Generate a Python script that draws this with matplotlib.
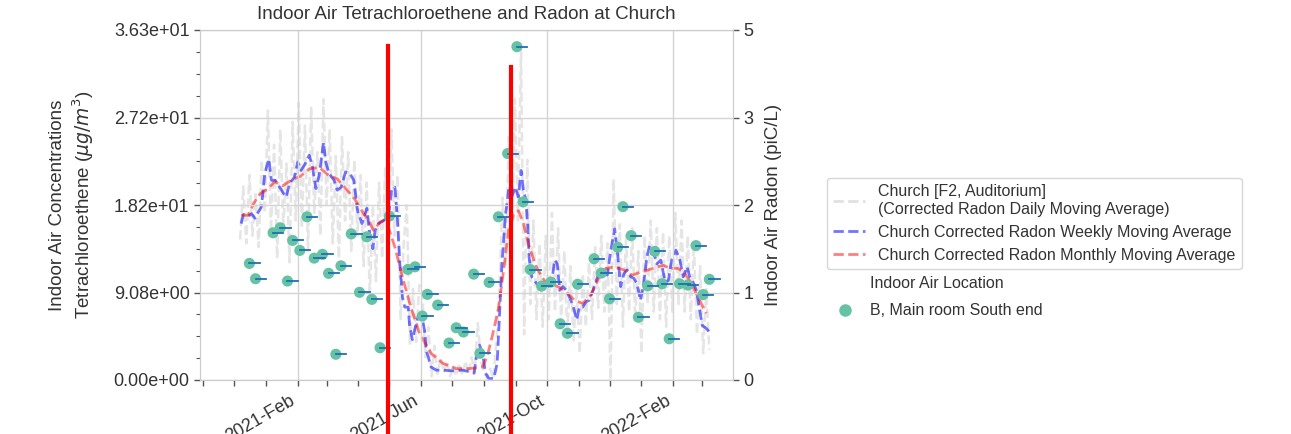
import numpy as np
import pandas as pd
import matplotlib
matplotlib.use("Agg")
import matplotlib.pyplot as plt
import matplotlib.dates as mdates
from matplotlib.lines import Line2D
from matplotlib.ticker import FixedLocator, AutoMinorLocator, FixedFormatter

plt.rcParams['font.family'] = ['Liberation Sans', 'DejaVu Sans']

BASE = pd.Timestamp('2021-02-01')

# ---------------- data ----------------
tce_dates = ['2020-12-16', '2020-12-22', '2021-01-08', '2021-01-15', '2021-01-22', '2021-01-27',
             '2021-02-03', '2021-02-10', '2021-02-17', '2021-02-25', '2021-03-03', '2021-03-10',
             '2021-03-15', '2021-03-25', '2021-04-02', '2021-04-09', '2021-04-14', '2021-04-22',
             '2021-05-01', '2021-05-19', '2021-05-26', '2021-06-02', '2021-06-07', '2021-06-17',
             '2021-06-28', '2021-07-05', '2021-07-12', '2021-07-22', '2021-07-28', '2021-08-06',
             '2021-08-15', '2021-08-24', '2021-09-02', '2021-09-08', '2021-09-15', '2021-09-26',
             '2021-10-05', '2021-10-14', '2021-10-21', '2021-10-31', '2021-11-16', '2021-11-23',
             '2021-12-01', '2021-12-09', '2021-12-14', '2021-12-22', '2021-12-29', '2022-01-07',
             '2022-01-14', '2022-01-21', '2022-01-28', '2022-02-07', '2022-02-15', '2022-02-23',
             '2022-03-02', '2022-03-08']
tce_values = [12.10, 10.51, 15.28, 15.80, 10.27, 14.49,
              13.45, 16.94, 12.65, 13.04, 11.07, 2.67,
              11.85, 15.17, 9.10, 14.86, 8.37, 3.35,
              17.01, 11.48, 11.75, 6.64, 8.89, 7.78,
              3.84, 5.42, 4.98, 10.99, 2.77, 10.13,
              16.94, 23.51, 34.60, 18.49, 11.46, 9.75,
              10.16, 5.83, 4.85, 9.94, 12.59, 11.10,
              8.43, 13.79, 17.99, 14.99, 6.51, 9.77,
              13.35, 9.99, 4.28, 9.99, 9.85, 13.95,
              8.87, 10.45]

# weekly moving average (days after 2021-02-01, pCi/L)
weekly_days = [-55.0, -52.8, -48.0, -44.9, -41.6, -38.4, -35.3, -32.0, -28.1, -25.6, -21.8, -17.6,
               -14.4, -11.2, -8.0, -3.2, 0.0, 3.2, 6.4, 11.2, 14.4, 17.6, 20.8, 25.0, 27.2, 30.4,
               35.3, 38.4, 42.3, 46.4, 50.6, 54.5, 58.3, 62.4, 67.2, 70.4, 73.0, 75.2, 78.5, 83.3,
               88.1, 91.2, 94.4, 96.7, 99.2, 101.8, 104.0, 107.3, 108.8, 111.4, 113.6, 116.9, 120.1,
               123.2, 124.9, 129.7, 134.5, 140.9, 150.5, 160.1, 166.5, 171.3, 174.5, 176.7, 179.9,
               182.5, 185.7, 190.5, 193.8, 196.0, 198.5, 201.7, 204.9, 208.1, 211.3, 214.5, 217.1,
               219.3, 221.6, 223.5, 224.8, 227.4, 232.2, 237.0, 243.3, 246.6, 249.7, 252.3, 254.5,
               257.7, 261.0, 264.1, 267.3, 271.1, 273.7, 276.9, 280.2, 283.3, 288.2, 291.3, 294.6,
               297.8, 300.9, 304.2, 308.0, 310.5, 313.8, 317.0, 320.1, 323.4, 326.6, 329.7, 333.0,
               336.2, 339.3, 341.9, 345.1, 349.0, 352.8, 357.0, 360.2, 363.4, 367.6, 371.4, 374.6,
               378.4, 381.0, 384.2, 387.4, 390.6, 393.1, 397.0, 400.2]
weekly_radon = [2.06, 2.18, 2.16, 2.19, 2.13, 2.21, 2.28, 2.72, 2.91, 2.63, 2.63, 2.54,
                2.47, 2.41, 2.59, 2.67, 2.87, 2.76, 2.83, 2.96, 2.80, 2.52, 2.69, 3.13, 2.87, 2.72,
                2.63, 2.50, 2.54, 2.74, 2.72, 2.63, 2.21, 2.06, 2.26, 1.88, 1.73, 1.97, 2.06, 2.10,
                2.15, 2.50, 2.54, 2.15, 1.53, 1.09, 0.96, 0.96, 0.70, 0.53, 0.66, 0.83, 0.85,
                0.66, 0.39, 0.17, 0.13, 0.13, 0.12, 0.13, 0.11, 0.09, 0.39, 0.46, 0.33,
                0.09, 0.02, 0.02, 0.22, 0.83, 1.53, 2.15, 2.50, 2.41, 2.54, 2.41, 2.76,
                2.50, 2.37, 2.06, 1.62, 1.36, 1.27, 1.23, 1.23, 1.27, 1.58, 1.53, 1.18,
                1.23, 1.18, 1.09, 0.99, 0.79, 0.96, 0.96, 1.03, 1.05, 1.23, 1.36, 1.40,
                1.42, 1.38, 1.71, 1.99, 1.71, 1.23, 1.40, 1.45, 1.36, 1.34, 1.27, 1.05,
                1.27, 1.62, 1.77, 1.71, 1.53, 1.58, 1.29, 1.31, 1.58, 1.71, 1.58, 1.36,
                1.49, 1.36, 1.29, 1.18, 0.92, 0.72, 0.68, 0.63]

# monthly moving average
monthly_days = [-55.0, -48.0, -43.2, -36.8, -28.8, -22.4, -14.4, -6.4, 3.2, 11.2, 20.8, 30.4,
                38.4, 48.0, 56.0, 64.1, 70.4, 73.7, 80.0, 83.3, 88.1, 94.4, 100.9, 108.8, 118.4,
                129.7, 140.9, 153.7, 166.5, 179.3, 184.1, 188.9, 195.3, 200.1, 204.9, 209.7,
                214.5, 219.3, 224.1, 230.5, 237.0, 243.3, 249.7, 259.3, 268.9, 276.9, 285.0,
                292.9, 299.4, 307.4, 317.0, 324.9, 333.0, 341.0, 349.0, 355.4, 361.8, 369.8,
                376.2, 382.6, 389.0, 397.0]
monthly_radon = [2.17, 2.17, 2.32, 2.45, 2.52, 2.61, 2.56, 2.63, 2.69, 2.78, 2.80, 2.69,
                 2.65, 2.50, 2.37, 2.19, 2.06, 1.97, 2.08, 2.10, 2.01, 1.75, 1.40, 1.01, 0.61,
                 0.35, 0.22, 0.15, 0.15, 0.17, 0.31, 0.57, 0.96, 1.45, 1.97, 2.17,
                 2.23, 2.06, 1.80, 1.53, 1.36, 1.25, 1.25, 1.18, 1.05, 1.01, 1.12,
                 1.36, 1.47, 1.49, 1.45, 1.38, 1.42, 1.45, 1.49, 1.51, 1.47, 1.47,
                 1.40, 1.27, 1.09, 0.88]

# daily moving average, one value every 3 days from 2020-12-07
daily_start = '2020-12-07'
daily_radon = [
    1.85, 2.55, 1.80, 2.70, 1.90, 2.45, 1.75, 2.90, 2.20,              # Dec
    3.55, 1.95, 3.10, 1.60, 3.30, 2.00, 2.85, 1.55, 3.40, 2.10,        # Jan
    3.65, 2.00, 3.35, 1.70, 3.60, 2.20, 3.00, 1.90, 3.70, 2.30,        # Feb
    3.30, 1.80, 2.95, 1.60, 3.20, 2.10, 3.00, 1.70, 2.90, 1.90,        # Mar
    2.70, 1.50, 2.60, 1.10, 2.30, 1.30, 2.60, 1.60, 2.80, 1.70,        # Apr
    3.30, 1.90, 2.70, 0.80, 1.80, 2.30, 0.45, 1.20, 0.50, 1.25,        # May
    1.20, 0.30, 0.70, 0.05, 0.45, 0.08, 0.30, 0.10, 0.25, 0.05,        # Jun
    0.20, 0.05, 0.22, 0.06, 0.25, 0.08, 0.30, 0.10, 0.75, 0.25,        # Jul
    0.10, 0.02, 0.15, 0.02, 0.50, 1.20, 2.40, 1.50, 3.20, 1.90,        # Aug
    3.70, 2.10, 4.39, 0.60, 2.90, 1.00, 2.10, 0.80, 1.80, 0.70,        # Sep
    1.90, 0.80, 2.20, 0.90, 2.00, 0.75, 1.70, 0.60, 1.50, 0.50, 1.20,  # Oct
    0.35, 1.40, 0.70, 1.55, 0.80, 1.75, 0.95, 1.90, 0.90, 1.80,        # Nov
    0.00, 2.65, 1.00, 2.05, 0.70, 1.90, 0.90, 2.00, 0.80, 1.70,        # Dec
    0.35, 1.90, 1.00, 2.10, 0.90, 2.00, 0.80, 1.95, 0.70, 1.90,        # Jan
    0.90, 2.20, 1.00, 2.10, 0.90, 1.90, 0.80, 1.80, 0.60, 1.50,        # Feb
    0.35, 1.20, 0.40]                                                  # Mar

event_dates = ['2021-04-30', '2021-08-27']
event_tops = [0.954, 0.894]

legend_labels = ['Church [F2, Auditorium]\n(Corrected Radon Daily Moving Average)',
                 'Church Corrected Radon Weekly Moving Average',
                 'Church Corrected Radon Monthly Moving Average']
location_label = 'B, Main room South end'

# ---------------- plot ----------------
fig = plt.figure(figsize=(12.91, 4.34), dpi=100)
ax = fig.add_axes([200/1291, 1-380/434, 533/1291, 350/434])
ax2 = ax.twinx()

green = '#66c2a5'
text_c = '#333333'
grid_c = '#d4d4d4'
gray_c = '#dadada'

daily_x = pd.date_range(daily_start, periods=len(daily_radon), freq='3D')
weekly_x = [BASE + pd.Timedelta(days=d) for d in weekly_days]
monthly_x = [BASE + pd.Timedelta(days=d) for d in monthly_days]

ax2.plot(daily_x, daily_radon, color=gray_c, ls='--', lw=1.8, alpha=0.7)
ax2.plot(weekly_x, weekly_radon, color='blue', ls='--', lw=2, alpha=0.55)
ax2.plot(monthly_x, monthly_radon, color='red', ls='--', lw=2, alpha=0.5)

ax.set_zorder(ax2.get_zorder() + 1)
ax.patch.set_visible(False)

tx = pd.to_datetime(tce_dates)
for d, v in zip(tx, tce_values):
    ax.plot([d, d + pd.Timedelta(days=10)], [v, v], color='#1f6fb4', lw=1.3, zorder=4)
ax.scatter(tx, tce_values, s=64, color=green, edgecolor='none', zorder=3)

for d, top in zip(event_dates, event_tops):
    ax.axvline(pd.Timestamp(d), ymin=-0.2, ymax=top, color='red', lw=3, clip_on=False, zorder=10)

# axes limits / ticks
lmax = max(tce_values) * 1.05
ax.set_ylim(0, lmax)
lt = np.linspace(0, lmax, 5)
ax.yaxis.set_major_locator(FixedLocator(lt))
ax.yaxis.set_major_formatter(FixedFormatter(['%.2e' % t for t in lt]))
ax.yaxis.set_minor_locator(AutoMinorLocator(4))

rmax = max(daily_radon) * 1.05
ax2.set_ylim(0, rmax)
rt = np.linspace(0, rmax, 5)
ax2.yaxis.set_major_locator(FixedLocator(rt))
ax2.yaxis.set_major_formatter(FixedFormatter(['%.0f' % t for t in rt]))

ax.set_xlim(pd.Timestamp('2020-10-29'), pd.Timestamp('2022-03-31'))
ax.xaxis.set_major_locator(mdates.MonthLocator(bymonth=[2, 6, 10]))
ax.xaxis.set_minor_locator(mdates.MonthLocator())
ax.xaxis.set_major_formatter(mdates.DateFormatter('%Y-%b'))
for lab in ax.get_xticklabels():
    lab.set_rotation(30)
    lab.set_ha('right')

ax.grid(True, which='major', color=grid_c, lw=1)
ax.set_axisbelow(True)
ax2.grid(False)

for a in (ax, ax2):
    for s in a.spines.values():
        s.set_color('#cccccc')
    a.tick_params(which='major', length=4, width=1, color='#555555', labelcolor=text_c, labelsize=13)
    a.tick_params(which='minor', length=3, width=0.8, color='#555555')
ax.tick_params(axis='x', which='minor', length=4, width=1)
ax.tick_params(axis='x', which='major', pad=5)

ax.set_title('Indoor Air Tetrachloroethene and Radon at Church', fontsize=13.5, color=text_c, pad=8)
ax.set_ylabel('Indoor Air Concentrations\nTetrachloroethene ($\\mu g/m^3$)', fontsize=13.5,
              color=text_c, labelpad=13)
ax2.set_ylabel('Indoor Air Radon (piC/L)', fontsize=13.5, color=text_c, labelpad=8)

h = [Line2D([], [], color=gray_c, ls='--', lw=2, alpha=0.8),
     Line2D([], [], color='blue', ls='--', lw=2, alpha=0.55),
     Line2D([], [], color='red', ls='--', lw=2, alpha=0.5)]
leg1 = ax.legend(h, legend_labels, loc='upper left', bbox_to_anchor=(1.176, 0.577),
                 borderaxespad=0, fontsize=11.5, frameon=True, edgecolor='#cccccc',
                 labelcolor=text_c, handlelength=2.0)
ax.add_artist(leg1)
h2 = [Line2D([], [], ls='none'),
      Line2D([], [], marker='o', color=green, ls='none', markersize=8)]
leg2 = ax.legend(h2, ['Indoor Air Location', location_label], loc='upper left',
                 bbox_to_anchor=(1.176, 0.315), borderaxespad=0, fontsize=11.5, frameon=False,
                 labelcolor=text_c, handlelength=1.5, labelspacing=0.75)

fig.savefig('out.png', dpi=100)
